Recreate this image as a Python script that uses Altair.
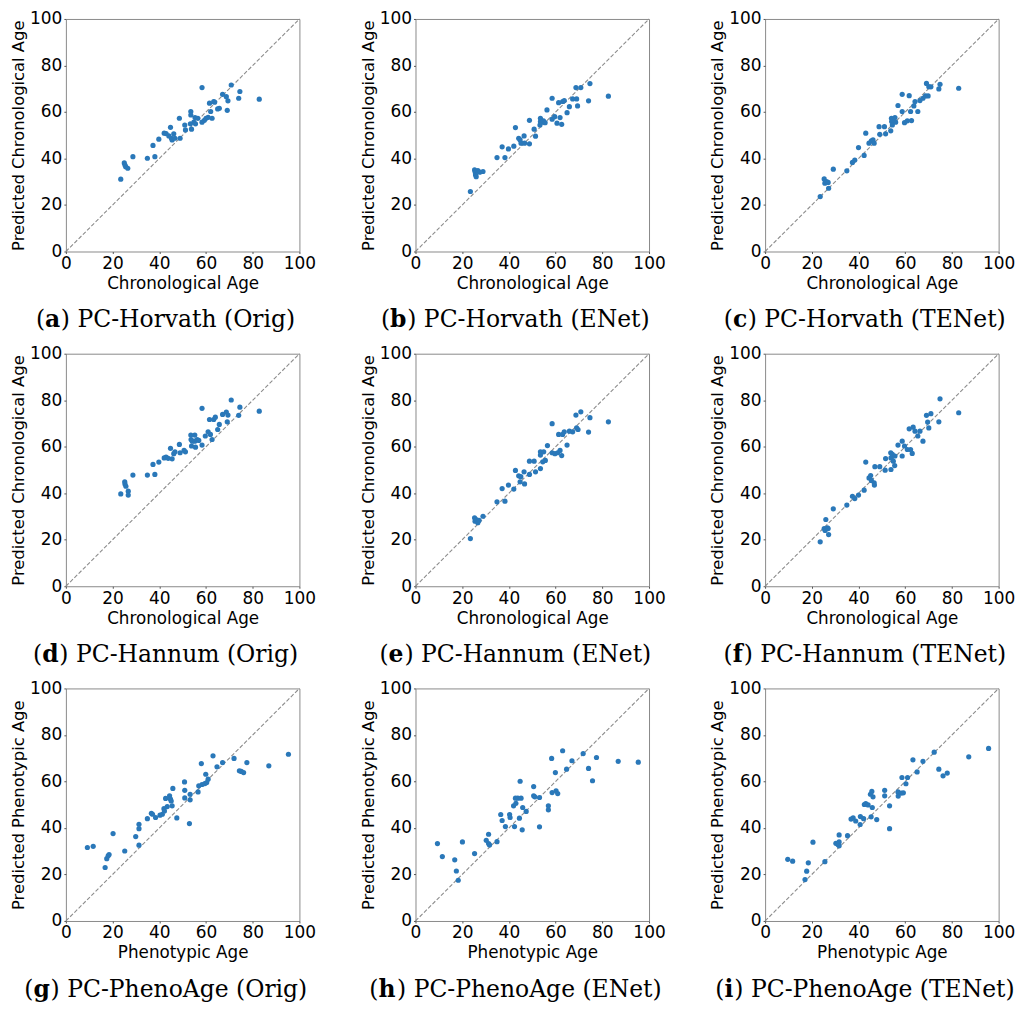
import altair as alt
import pandas as pd

TICKS = [0, 20, 40, 60, 80, 100]
DIAG = [0, 100]

# (a) PC-Horvath (Orig)
A_X = [23.5, 25.0, 25.3, 25.6, 26.5, 28.7, 34.9, 37.3, 38.1, 39.8, 42.1, 42.9, 44.8, 44.1, 45.2, 45.5, 46.2, 46.7, 48.6, 48.9, 50.9, 51.2, 53.5, 53.5, 53.3, 53.8, 54.8, 55.3, 55.5, 56.5, 58.3, 58.3, 59.3, 60.0, 60.9, 61.5, 62.0, 62.6, 63.3, 63.7, 65.0, 65.7, 67.1, 68.7, 69.1, 69.4, 70.8, 74.0, 74.5, 82.8]
A_Y = [31.1, 38.1, 37.2, 36.5, 35.8, 40.8, 40.1, 45.6, 40.8, 48.3, 50.9, 50.7, 53.4, 49.7, 48.7, 48.0, 50.6, 48.7, 57.3, 48.7, 54.4, 52.3, 60.2, 58.7, 54.9, 52.6, 55.6, 57.6, 54.9, 57.3, 70.5, 55.6, 56.4, 57.3, 57.7, 63.8, 60.2, 57.3, 64.5, 64.2, 61.3, 61.6, 67.6, 66.6, 60.7, 64.8, 71.6, 65.9, 68.8, 65.5]
# (b) PC-Horvath (ENet)
B_X = [23.5, 25.3, 25.6, 25.7, 26.0, 26.7, 27.5, 28.9, 34.9, 37.1, 38.3, 39.8, 42.1, 42.8, 44.2, 44.8, 45.2, 46.5, 46.7, 48.8, 48.8, 50.8, 51.4, 53.5, 53.5, 53.3, 54.1, 54.8, 55.5, 56.3, 58.5, 58.5, 59.6, 60.6, 61.3, 61.9, 62.6, 63.0, 63.7, 64.9, 65.9, 67.3, 68.7, 69.0, 69.4, 70.8, 74.1, 74.7, 82.6]
B_Y = [25.8, 35.1, 34.1, 33.0, 32.2, 34.8, 34.1, 34.4, 40.4, 45.0, 40.4, 44.1, 45.3, 53.3, 48.7, 48.0, 46.6, 49.7, 46.6, 56.4, 46.3, 52.6, 49.6, 57.3, 55.9, 54.4, 55.6, 56.2, 55.4, 60.9, 65.9, 56.9, 58.0, 55.2, 64.0, 57.6, 54.7, 64.5, 64.9, 59.7, 62.3, 65.6, 70.5, 65.6, 62.6, 70.5, 64.8, 72.2, 66.8]
# (c) PC-Horvath (TENet)
C_X = [23.6, 25.3, 25.6, 26.3, 27.0, 27.2, 29.2, 35.0, 37.4, 38.4, 40.0, 42.4, 43.1, 44.5, 45.5, 46.2, 46.7, 48.8, 49.1, 51.1, 51.6, 53.8, 54.1, 54.2, 54.5, 54.9, 55.6, 55.9, 56.9, 58.7, 58.7, 59.7, 60.9, 61.7, 62.3, 62.7, 63.7, 64.2, 65.4, 66.3, 67.6, 68.7, 69.1, 69.8, 70.1, 71.0, 74.4, 74.9, 82.9]
C_Y = [23.6, 31.2, 29.4, 30.1, 29.7, 27.2, 35.4, 34.7, 38.3, 39.3, 44.7, 41.3, 50.9, 46.6, 47.6, 48.0, 46.6, 53.7, 50.4, 53.7, 50.6, 51.9, 57.3, 55.9, 54.4, 56.6, 57.6, 55.6, 62.8, 67.6, 60.2, 55.4, 56.2, 67.0, 60.2, 56.3, 62.6, 64.5, 60.2, 64.9, 65.9, 66.9, 72.3, 66.9, 70.9, 70.8, 69.9, 71.9, 70.2]
# (d) PC-Hannum (Orig)
D_X = [23.5, 25.2, 25.3, 25.7, 26.7, 26.7, 28.7, 34.9, 37.3, 38.1, 39.8, 42.1, 42.9, 43.8, 44.8, 45.5, 46.2, 46.7, 48.6, 48.9, 50.6, 51.2, 53.5, 53.6, 53.8, 54.1, 55.2, 55.2, 55.5, 56.2, 56.9, 58.3, 58.3, 59.7, 60.9, 61.5, 61.9, 62.6, 63.3, 64.0, 65.0, 65.7, 67.1, 68.7, 69.1, 69.4, 70.8, 74.0, 74.5, 82.8]
D_Y = [39.7, 44.9, 44.0, 43.0, 40.9, 39.2, 47.8, 47.8, 52.4, 48.1, 53.4, 55.2, 55.5, 55.0, 59.3, 54.8, 57.0, 57.8, 61.0, 57.4, 58.4, 57.8, 65.0, 63.1, 60.3, 62.4, 65.0, 62.4, 59.8, 63.1, 62.7, 76.5, 60.7, 64.6, 66.4, 71.7, 65.3, 63.1, 71.7, 72.7, 67.4, 69.6, 73.9, 74.9, 70.7, 73.6, 80.1, 73.5, 77.0, 75.3]
# (e) PC-Hannum (ENet)
E_X = [23.5, 25.3, 25.5, 26.0, 26.7, 27.2, 28.9, 34.9, 37.1, 38.3, 39.8, 42.1, 42.8, 44.2, 45.1, 44.8, 46.5, 46.7, 48.8, 48.8, 50.8, 51.4, 53.5, 53.5, 53.5, 54.5, 54.9, 55.6, 56.5, 58.5, 58.5, 59.7, 60.9, 61.3, 61.9, 62.6, 63.0, 63.7, 64.9, 65.9, 67.3, 68.7, 69.0, 69.6, 70.8, 74.1, 74.7, 82.6]
E_Y = [20.5, 29.4, 28.0, 28.7, 27.3, 28.3, 30.1, 36.3, 42.0, 36.6, 43.5, 41.8, 49.8, 47.5, 47.1, 44.9, 49.2, 44.0, 53.8, 48.1, 53.8, 49.2, 57.8, 56.4, 50.6, 53.5, 57.8, 54.1, 60.5, 69.9, 57.4, 57.0, 57.4, 65.3, 58.4, 56.2, 65.3, 66.4, 60.7, 66.7, 66.4, 73.6, 68.1, 67.4, 75.0, 66.3, 72.5, 70.7]
# (f) PC-Hannum (TENet)
F_X = [23.6, 25.3, 25.7, 26.0, 26.7, 27.2, 27.0, 29.2, 35.0, 37.4, 38.4, 40.0, 42.4, 43.1, 44.5, 45.2, 45.5, 46.7, 46.8, 47.0, 49.1, 51.4, 51.6, 53.8, 53.9, 53.9, 54.5, 54.9, 55.5, 55.6, 56.9, 58.7, 58.7, 59.7, 60.9, 61.7, 62.3, 63.0, 63.4, 64.2, 65.4, 66.3, 67.6, 69.1, 69.6, 70.1, 71.0, 74.4, 74.9, 82.9]
F_Y = [19.1, 24.8, 24.0, 28.7, 25.1, 22.2, 24.8, 33.3, 34.9, 38.7, 37.7, 39.2, 41.3, 53.4, 46.6, 47.6, 45.5, 44.5, 43.5, 51.4, 51.4, 49.9, 54.9, 57.4, 55.2, 50.2, 56.7, 53.8, 51.9, 56.0, 60.7, 62.4, 56.0, 60.3, 58.8, 67.7, 58.8, 57.1, 68.4, 66.7, 64.6, 66.7, 62.4, 73.5, 70.6, 68.1, 74.2, 70.7, 80.6, 74.6]
# (g) PC-PhenoAge (Orig)
G_X = [9.2, 11.7, 16.8, 17.5, 18.1, 18.5, 20.2, 25.2, 29.9, 31.3, 31.3, 31.3, 34.9, 36.6, 37.1, 38.4, 40.3, 41.3, 42.0, 42.2, 42.7, 43.4, 44.4, 44.8, 45.1, 45.5, 45.8, 47.5, 50.8, 50.9, 50.9, 52.9, 53.2, 53.2, 56.6, 56.9, 58.0, 58.3, 59.5, 59.9, 60.3, 60.9, 63.0, 64.7, 67.1, 72.0, 74.3, 75.1, 76.1, 77.5, 86.9, 95.3]
G_Y = [31.6, 32.1, 23.0, 26.8, 28.0, 28.6, 37.6, 30.1, 36.3, 41.6, 39.7, 32.6, 44.0, 46.3, 45.9, 44.5, 45.5, 45.9, 48.3, 47.3, 52.7, 49.2, 53.8, 52.4, 51.6, 49.5, 57.0, 44.3, 59.8, 56.2, 52.9, 41.9, 54.5, 52.1, 55.5, 58.1, 67.7, 58.7, 59.1, 63.1, 59.5, 61.0, 71.0, 66.3, 68.1, 69.9, 64.6, 64.3, 63.8, 68.1, 66.7, 71.7]
# (h) PC-PhenoAge (ENet)
H_X = [9.4, 11.5, 16.8, 17.5, 18.3, 20.1, 25.3, 30.3, 31.3, 31.3, 31.7, 34.9, 36.5, 37.1, 38.5, 40.3, 40.5, 42.0, 42.4, 42.8, 43.0, 43.8, 44.5, 44.8, 45.2, 45.7, 45.9, 47.4, 50.6, 50.6, 51.1, 53.1, 53.1, 56.9, 56.9, 58.3, 58.5, 59.9, 60.2, 60.9, 63.0, 64.7, 67.0, 71.8, 74.1, 75.8, 77.5, 86.8, 95.4]
H_Y = [33.3, 27.7, 26.3, 21.5, 17.5, 34.0, 29.0, 34.7, 37.3, 33.3, 32.7, 34.1, 45.8, 43.2, 40.6, 45.8, 44.5, 49.5, 40.6, 52.8, 50.6, 52.8, 44.2, 60.1, 52.8, 39.2, 48.8, 47.1, 57.8, 53.8, 53.4, 53.1, 40.5, 49.5, 47.8, 69.9, 55.2, 63.8, 56.0, 54.8, 73.2, 65.3, 68.9, 72.0, 65.6, 60.3, 70.3, 68.6, 68.3]
# (i) PC-PhenoAge (TENet)
I_X = [9.7, 11.8, 17.1, 17.8, 18.5, 20.5, 25.6, 30.3, 31.2, 31.7, 31.7, 31.7, 35.3, 36.8, 37.7, 38.8, 40.7, 40.8, 42.2, 42.5, 43.1, 44.1, 45.1, 45.4, 45.7, 45.9, 46.2, 47.8, 51.2, 51.2, 53.3, 53.3, 56.9, 57.0, 58.3, 58.6, 59.2, 60.3, 61.0, 63.3, 65.1, 67.6, 72.4, 74.4, 76.2, 78.0, 87.2, 95.7]
I_Y = [26.5, 25.7, 17.8, 21.4, 25.0, 33.9, 25.5, 33.4, 32.9, 37.0, 34.0, 32.3, 36.7, 43.8, 44.3, 43.0, 41.5, 44.9, 44.0, 50.1, 50.5, 49.9, 54.5, 44.8, 55.7, 48.8, 53.4, 43.6, 56.2, 53.8, 49.5, 39.7, 55.5, 53.7, 55.0, 61.7, 55.1, 59.0, 61.7, 69.3, 64.1, 68.6, 72.6, 65.3, 62.4, 63.6, 70.6, 74.2]

LETTERS = ["a", "b", "c", "d", "e", "f", "g", "h", "i"]
NAMES = ["PC-Horvath (Orig)", "PC-Horvath (ENet)", "PC-Horvath (TENet)",
         "PC-Hannum (Orig)", "PC-Hannum (ENet)", "PC-Hannum (TENet)",
         "PC-PhenoAge (Orig)", "PC-PhenoAge (ENet)", "PC-PhenoAge (TENet)"]
X_TITLES = ["Chronological Age"] * 6 + ["Phenotypic Age"] * 3
Y_TITLES = ["Predicted Chronological Age"] * 6 + ["Predicted Phenotypic Age"] * 3
XS = [A_X, B_X, C_X, D_X, E_X, F_X, G_X, H_X, I_X]
YS = [A_Y, B_Y, C_Y, D_Y, E_Y, F_Y, G_Y, H_Y, I_Y]

W, H = 234, 233
CAP_SIZE = 23.5
CAP_CENTER = 99
CAP_BASE = 309
CAP_FONT = "DejaVu Serif"

# approximate DejaVu Serif advance widths (em) used to centre the captions
REG_W = {" ": 0.318, "(": 0.390, ")": 0.390, "-": 0.338, "A": 0.722, "C": 0.734,
         "E": 0.690, "H": 0.869, "N": 0.867, "O": 0.787, "P": 0.661, "T": 0.674,
         "a": 0.596, "e": 0.592, "g": 0.635, "h": 0.644, "i": 0.320, "m": 0.948,
         "n": 0.644, "o": 0.602, "r": 0.478, "t": 0.402, "u": 0.644, "v": 0.569}
BOLD_W = {"a": 0.675, "b": 0.733, "c": 0.627, "d": 0.733, "e": 0.678, "f": 0.473,
          "g": 0.733, "h": 0.793, "i": 0.420}


def tw(s, table):
    return sum(table.get(c, 0.6) for c in s) * CAP_SIZE


def panel(i):
    pts = pd.DataFrame({"x": XS[i], "y": YS[i]})
    diag = pd.DataFrame({"x": DIAG, "y": DIAG})
    sx = alt.Scale(domain=[0, 100], nice=False)
    sy = alt.Scale(domain=[0, 100], nice=False)
    line = alt.Chart(diag).mark_line(color="#8c8c8c", strokeDash=[4, 2], strokeWidth=1.1).encode(
        x=alt.X("x:Q", scale=sx, axis=alt.Axis(values=TICKS, title=X_TITLES[i])),
        y=alt.Y("y:Q", scale=sy, axis=alt.Axis(values=TICKS, title=Y_TITLES[i])),
    )
    dots = alt.Chart(pts).mark_circle(size=27, color="#2a78b9", opacity=1).encode(
        x="x:Q", y="y:Q"
    )
    letter = LETTERS[i]
    rest = ") " + NAMES[i]
    w_open = tw("(", REG_W)
    w_letter = tw(letter, BOLD_W)
    w_rest = tw(rest, REG_W)
    left = CAP_CENTER - (w_open + w_letter + w_rest) / 2
    cap_df = pd.DataFrame({"o": ["("], "l": [letter], "r": [rest]})
    common = dict(align="left", baseline="alphabetic", font=CAP_FONT,
                  fontSize=CAP_SIZE, color="black")
    cap_o = alt.Chart(cap_df).mark_text(fontWeight="normal", **common).encode(
        text="o:N", x=alt.value(left), y=alt.value(CAP_BASE))
    cap_l = alt.Chart(cap_df).mark_text(fontWeight="bold", **common).encode(
        text="l:N", x=alt.value(left + w_open), y=alt.value(CAP_BASE))
    cap_r = alt.Chart(cap_df).mark_text(fontWeight="normal", **common).encode(
        text="r:N", x=alt.value(left + w_open + w_letter), y=alt.value(CAP_BASE))
    return alt.layer(line, dots, cap_o, cap_l, cap_r).properties(width=W, height=H)


chart = alt.concat(
    *[panel(i) for i in range(9)],
    columns=3,
    spacing={"row": 102.4, "column": 116.3},
    bounds="flush",
).properties(
    padding={"left": 2, "top": 0, "right": 0, "bottom": 0}
).configure_view(
    stroke="#8a8a8a", strokeWidth=1
).configure_axis(
    labelFont="DejaVu Sans", labelFontSize=17, labelColor="black",
    titleFont="DejaVu Sans", titleFontWeight="normal", titleColor="black",
    grid=False, domain=False, tickSize=2, tickColor="#555555", labelPadding=2,
    labelFlush=False, labelOverlap=False
).configure_axisX(
    titlePadding=4, titleFontSize=16.8
).configure_axisY(
    titlePadding=3, titleFontSize=16.4
)

chart.save("out.html", embed_options={"renderer": "svg", "actions": False})
